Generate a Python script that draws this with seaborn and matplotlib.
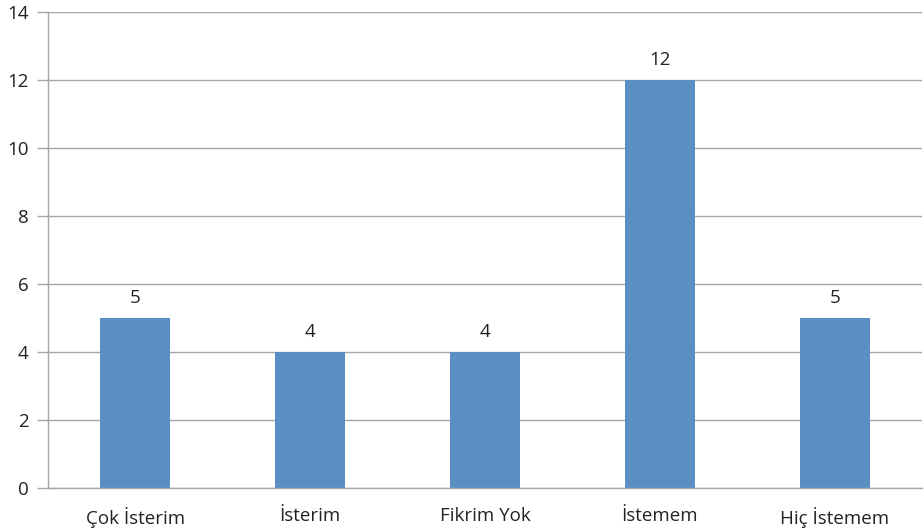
import numpy as np
import pandas as pd
import matplotlib
matplotlib.use('Agg')
import matplotlib.pyplot as plt
import seaborn as sns

categories = ['Çok İsterim', 'İsterim', 'Fikrim Yok', 'İstemem', 'Hiç İstemem']
values = [5, 4, 4, 12, 5]
yticks = [0, 2, 4, 6, 8, 10, 12, 14]

df = pd.DataFrame({'cat': categories, 'val': values})

sns.set_style('white')
plt.rcParams['font.family'] = ['Open Sans', 'DejaVu Sans']

fig = plt.figure(figsize=(9.24, 5.29), dpi=100)
ax = fig.add_axes([0.052, 0.0775, 0.946, 0.8995])

sns.barplot(data=df, x='cat', y='val', color='#5B8EC2', saturation=1, width=0.4,
            linewidth=0, ax=ax)

ax.set_ylim(0, 14)
ax.set_xlim(-0.5, 4.5)
ax.set_yticks(yticks)
ax.yaxis.grid(True, color='#A6A6A6', linewidth=1)
ax.set_axisbelow(True)
for s in ['top', 'right']:
    ax.spines[s].set_visible(False)
for s in ['left', 'bottom']:
    ax.spines[s].set_color('#A6A6A6')
    ax.spines[s].set_linewidth(1)

ax.set_xticks(np.arange(-0.5, 5, 1), minor=True)
ax.tick_params(axis='x', which='major', length=0, pad=14, labelsize=13.5, labelcolor='#222222')
ax.tick_params(axis='x', which='minor', length=5, color='#A6A6A6', width=1, direction='out')
ax.tick_params(axis='y', length=8, color='#A6A6A6', width=1, direction='out', pad=6,
               labelsize=13.5, labelcolor='#222222', left=True)
ax.set_xlabel('')
ax.set_ylabel('')

ax.bar_label(ax.containers[0], padding=8, fontsize=13.5, color='#222222')

fig.savefig('out.png', dpi=100)
